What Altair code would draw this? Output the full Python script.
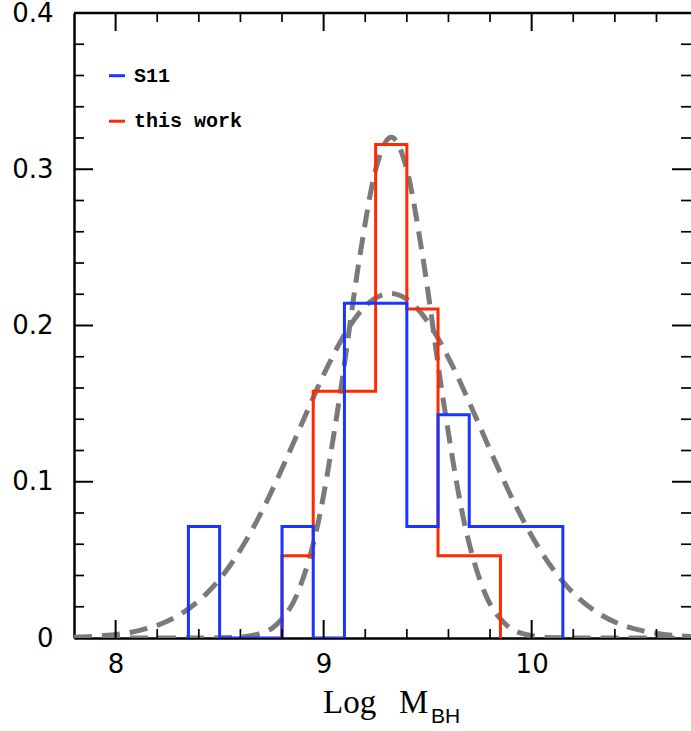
import altair as alt
import pandas as pd

# ---------------- data ----------------
s11_edges = [8.35, 8.50, 8.65, 8.80, 8.95, 9.10, 9.25, 9.40, 9.55, 9.70, 9.85, 10.00, 10.15]
s11_frac = [0.0714, 0.0, 0.0, 0.0714, 0.0, 0.2143, 0.2143, 0.0714, 0.1429, 0.0714, 0.0714, 0.0714]

tw_edges = [8.80, 8.95, 9.10, 9.25, 9.40, 9.55, 9.70, 9.85]
tw_frac = [0.0526, 0.1579, 0.1579, 0.3158, 0.2105, 0.0526, 0.0526]

narrow_x = [7.8, 8.225, 8.425, 8.575, 8.675, 8.775, 8.875, 8.975, 9.075, 9.175, 9.25,
            9.325, 9.4, 9.475, 9.575, 9.675, 9.775, 9.875, 9.975, 10.075, 10.225, 10.425, 10.766]
narrow_y = [0.0, 0.0, 0.0, 0.0004, 0.0021, 0.0088, 0.0288, 0.0746, 0.1524, 0.2452, 0.2998,
            0.3205, 0.2998, 0.2452, 0.1524, 0.0746, 0.0288, 0.0088, 0.0021, 0.0004, 0.0, 0.0, 0.0]

wide_x = [7.8, 7.92, 8.02, 8.12, 8.22, 8.32, 8.42, 8.52, 8.62, 8.72, 8.82, 8.92, 9.02, 9.12, 9.22,
          9.32, 9.42, 9.52, 9.62, 9.72, 9.82, 9.92, 10.02, 10.12, 10.22, 10.32, 10.42, 10.52,
          10.62, 10.72, 10.766]
wide_y = [0.0005, 0.0013, 0.0026, 0.0050, 0.0091, 0.0159, 0.0262, 0.0410, 0.0608, 0.0856,
          0.1143, 0.1448, 0.1740, 0.1985, 0.2148, 0.2205, 0.2148, 0.1985, 0.1740, 0.1448,
          0.1143, 0.0856, 0.0608, 0.0410, 0.0262, 0.0159, 0.0091, 0.0050, 0.0026, 0.0013, 0.0009]

series_names = ["S11", "this work"]
series_colors = ["#1836ff", "#ff2a00"]

x_major_ticks = [8, 9, 10]
x_minor_ticks = [8.2, 8.4, 8.6, 8.8, 9.2, 9.4, 9.6, 9.8, 10.2, 10.4, 10.6]
y_major_ticks = [0.1, 0.2, 0.3]
y_minor_ticks = [0.02, 0.04, 0.06, 0.08, 0.12, 0.14, 0.16, 0.18, 0.22, 0.24, 0.26, 0.28,
                 0.32, 0.34, 0.36, 0.38]
x_labels = [8, 9, 10]
y_labels = [0, 0.1, 0.2, 0.3, 0.4]

# ---------------- layout ----------------
W, H = 617, 625
xscale = alt.Scale(domain=[7.8, 10.766], nice=False, zero=False)
yscale = alt.Scale(domain=[0, 0.4], nice=False, zero=False)

x_axis = alt.Axis(values=x_labels, format="d", ticks=False, grid=False, domain=True,
                  domainColor="black", domainWidth=2.5, labelFont="DejaVu Sans",
                  labelFontSize=26, labelColor="black", labelPadding=13.5, title=None,
                  orient="bottom")
y_axis = alt.Axis(values=y_labels, format=".1~f", ticks=False, grid=False, domain=True,
                  domainColor="black", domainWidth=2.5, labelFont="DejaVu Sans",
                  labelFontSize=26, labelColor="black", labelPadding=21, title=None,
                  orient="left")

X = lambda: alt.X("x:Q", scale=xscale, axis=x_axis)
Y = lambda: alt.Y("y:Q", scale=yscale, axis=y_axis)


def step_table(edges, fracs, name):
    rows = [{"x": edges[0], "y": 0.0, "i": 0, "series": name}]
    for k, v in enumerate(fracs):
        rows.append({"x": edges[k], "y": v, "i": k + 1, "series": name})
    rows.append({"x": edges[-1], "y": 0.0, "i": len(fracs) + 1, "series": name})
    return pd.DataFrame(rows)


s11_df = step_table(s11_edges, s11_frac, "S11")
tw_df = step_table(tw_edges, tw_frac, "this work")
gauss_df = pd.concat([
    pd.DataFrame({"x": narrow_x, "y": narrow_y, "curve": "narrow"}),
    pd.DataFrame({"x": wide_x, "y": wide_y, "curve": "wide"}),
])

color = alt.Color(
    "series:N",
    scale=alt.Scale(domain=series_names, range=series_colors),
    legend=alt.Legend(
        title=None, orient="none", legendX=33, legendY=52.7, padding=0,
        symbolType="stroke", symbolSize=256, symbolStrokeWidth=3,
        labelFont="Liberation Mono", labelFontWeight="bold", labelFontSize=20,
        labelColor="black", labelOffset=7, rowPadding=25.5,
    ),
)

gauss = alt.Chart(gauss_df).mark_line(
    color="#7a7a7a", strokeWidth=5, strokeDash=[18, 10], interpolate="monotone", clip=True
).encode(x=X(), y=Y(), detail="curve:N")

tw_line = alt.Chart(tw_df).mark_line(strokeWidth=3, interpolate="step-after", clip=True).encode(
    x=X(), y=Y(), color=color, order="i:Q")
s11_line = alt.Chart(s11_df).mark_line(strokeWidth=3, interpolate="step-after", clip=True).encode(
    x=X(), y=Y(), color=color, order="i:Q")


def xticks(vals, length, width):
    d = pd.DataFrame({"x": vals})
    bottom = alt.Chart(d).mark_rule(color="black", strokeWidth=width).encode(
        x=X(), y=alt.value(H), y2=alt.value(H - length))
    top = alt.Chart(d).mark_rule(color="black", strokeWidth=width).encode(
        x=X(), y=alt.value(0), y2=alt.value(length))
    return [bottom, top]


def yticks(vals, length, width):
    d = pd.DataFrame({"y": vals})
    left = alt.Chart(d).mark_rule(color="black", strokeWidth=width).encode(
        y=Y(), x=alt.value(0), x2=alt.value(length))
    right = alt.Chart(d).mark_rule(color="black", strokeWidth=width).encode(
        y=Y(), x=alt.value(W), x2=alt.value(W - length))
    return [left, right]


one = alt.Data(values=[{"a": 1}])
frame_top = alt.Chart(one).mark_rule(color="black", strokeWidth=2.5).encode(
    x=alt.value(0), x2=alt.value(W), y=alt.value(0))

title_log = alt.Chart(one).mark_text(
    text="Log", font="Liberation Serif", fontSize=33, align="left", baseline="alphabetic",
    color="black").encode(x=alt.value(249), y=alt.value(700))
title_m = alt.Chart(one).mark_text(
    text="M", font="Liberation Serif", fontSize=33, align="left", baseline="alphabetic",
    color="black").encode(x=alt.value(325), y=alt.value(700))
title_bh = alt.Chart(one).mark_text(
    text="BH", font="Liberation Sans", fontSize=21, align="left", baseline="alphabetic",
    color="black").encode(x=alt.value(357), y=alt.value(710))

layers = [gauss, tw_line, s11_line]
layers += xticks(x_major_ticks, 18, 2) + xticks(x_minor_ticks, 9, 1.7)
layers += yticks(y_major_ticks, 19, 2) + yticks(y_minor_ticks, 10, 1.7)
layers += [frame_top, title_log, title_m, title_bh]

chart = alt.layer(*layers).properties(
    width=W, height=H,
    autosize=alt.AutoSizeParams(type="none"),
    padding={"left": 74, "top": 13, "right": 0, "bottom": 93},
).configure_view(stroke=None).configure(background="white")

chart.save("out.html", embed_options={"renderer": "svg", "actions": False})
